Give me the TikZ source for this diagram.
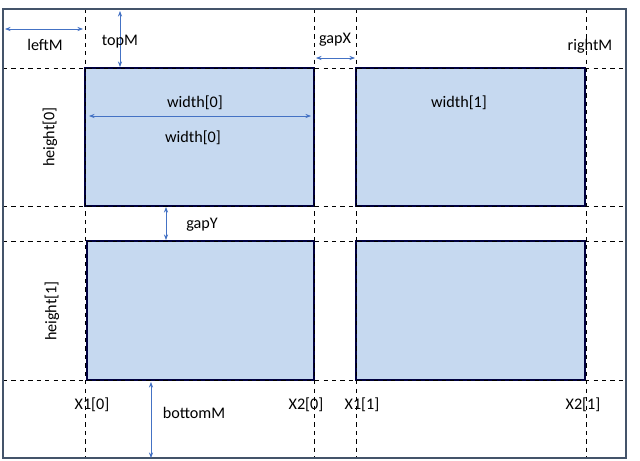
\documentclass[tikz,border=0pt]{standalone}
\usepackage{fontspec}
\setmainfont{Carlito}
\usetikzlibrary{arrows.meta}
\definecolor{frameblue}{HTML}{44546A}
\definecolor{cellfill}{HTML}{C6D9F0}
\definecolor{arrowblue}{HTML}{4472C4}
\tikzset{
  guide/.style = {black, dashed, line width=0.5pt},
  cell/.style  = {fill=cellfill, draw=black!75!blue, line width=1pt},
  dim/.style   = {arrowblue, line width=0.5pt, {Stealth[length=4pt]}-{Stealth[length=4pt]}},
  lbl/.style   = {font=\fontsize{11.5}{13}\selectfont, inner sep=1pt}
}
\begin{document}
\begin{tikzpicture}[x=0.025cm, y=-0.025cm]
	\useasboundingbox (0,0) rectangle (640,461);
	
	% Cells
	\draw[cell] (85,68) rectangle (314,206);
	\draw[cell] (356,68) rectangle (585,206);
	\draw[cell] (87,241) rectangle (314,380);
	\draw[cell] (356,241) rectangle (585,380);
	
	% Guides
	\foreach \gx in {85,314,356,586}
		\draw[guide] (\gx,9) -- (\gx,458);
	\foreach \gy in {68,206,241,380}
		\draw[guide] (3,\gy) -- (626,\gy);
	
	% Frame
	\draw[frameblue, line width=1.5pt] (3,9) rectangle (626,458);
	
	% Dimensions
	\coordinate (leftA) at (5,29);   \coordinate (leftB) at (83,29);
	\coordinate (topA) at (120,11);  \coordinate (topB) at (120,67);
	\coordinate (gapxA) at (316,58); \coordinate (gapxB) at (355,58);
	\coordinate (wA) at (89,116);    \coordinate (wB) at (311,116);
	\coordinate (gapyA) at (166,207); \coordinate (gapyB) at (166,240);
	\coordinate (botA) at (151,382); \coordinate (botB) at (151,458);
	\draw[dim] (leftA) -- (leftB);
	\draw[dim] (topA) -- (topB);
	\draw[dim] (gapxA) -- (gapxB);
	\draw[dim] (wA) -- (wB);
	\draw[dim] (gapyA) -- (gapyB);
	\draw[dim] (botA) -- (botB);
	
	% Labels
	\node[lbl] (leftM) at (45,45) {leftM};
	\node[lbl] (topM) at (120,42) {topM};
	\node[lbl] (gapX) at (335,40) {gapX};
	\node[lbl] (rightM) at (590,46) {rightM};
	\node[lbl] (w0a) at (195,103) {width[0]};
	\node[lbl] (w0b) at (193,138) {width[0]};
	\node[lbl] (w1) at (459,103) {width[1]};
	\node[lbl, rotate=90] (h0) at (50,137) {height[0]};
	\node[lbl, rotate=90] (h1) at (52,311) {height[1]};
	\node[lbl] (gapY) at (202,225) {gapY};
	\node[lbl] (bottomM) at (194,413) {bottomM};
	\node[lbl] (x10) at (92,405) {X1[0]};
	\node[lbl] (x20) at (306,405) {X2[0]};
	\node[lbl] (x11) at (362,405) {X1[1]};
	\node[lbl] (x21) at (583,405) {X2[1]};
	
\end{tikzpicture}
\end{document}
